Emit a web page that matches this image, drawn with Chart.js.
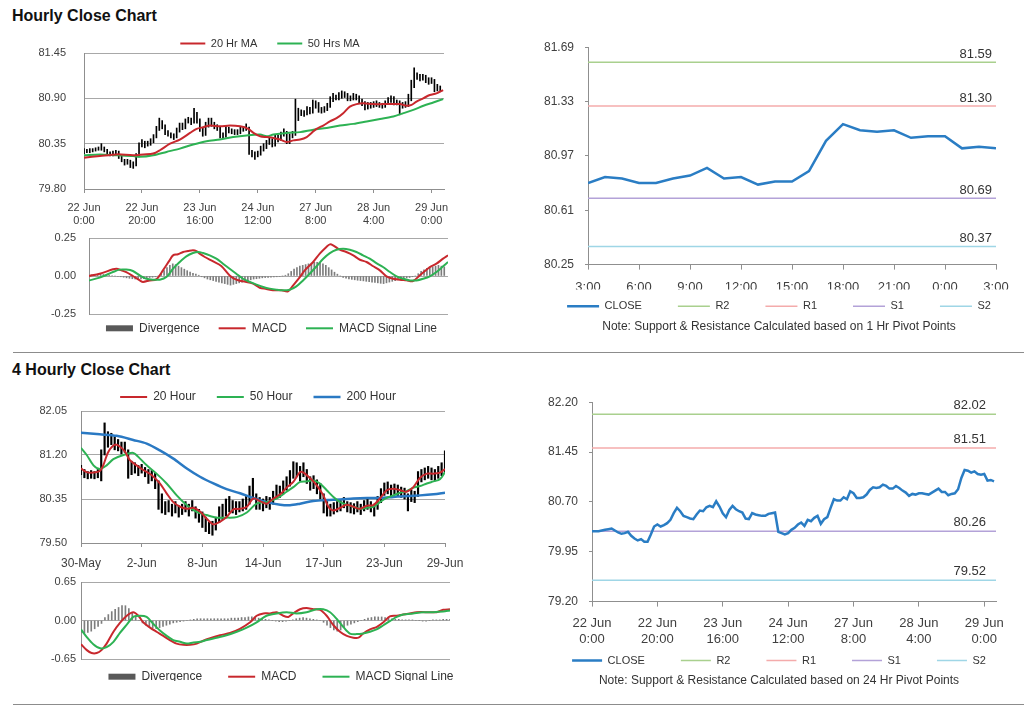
<!DOCTYPE html>
<html><head><meta charset="utf-8">
<script src="https://cdn.jsdelivr.net/npm/chart.js@4.4.0/dist/chart.umd.min.js"></script>
<style>
html,body{margin:0;padding:0;background:#fff;width:1024px;height:706px;overflow:hidden;position:relative;font-family:"Liberation Sans",Arial,sans-serif;}
canvas{position:absolute;}
.title{position:absolute;left:12px;font-weight:bold;font-size:16px;line-height:16px;color:#111;white-space:nowrap;}
.sep{position:absolute;left:13px;width:1011px;height:1px;background:#8c8c8c;}
</style></head><body>
<div class="title" style="top:8px">Hourly Close Chart</div>
<div class="title" style="top:362px">4 Hourly Close Chart</div>
<div class="sep" style="top:352px"></div>
<div class="sep" style="top:704px"></div>
<canvas id="cA" width="468" height="215" style="left:36px;top:18px"></canvas>
<canvas id="cA2" width="463" height="104" style="left:40px;top:230px"></canvas>
<canvas id="cB" width="510" height="306" style="left:524px;top:29px"></canvas>
<canvas id="cD" width="456" height="203" style="left:30px;top:370px"></canvas>
<canvas id="cD2" width="502" height="107" style="left:30px;top:574px"></canvas>
<canvas id="cC" width="510" height="305" style="left:524px;top:384px"></canvas>
<script>
// ---------- Hourly (22 Jun 0:00 .. 29 Jun 3:00), one entry per hour ----------
const hourlyTickHours = [0, 20, 40, 60, 80, 100, 120];
const hourlyTickLabels = [['22 Jun','0:00'],['22 Jun','20:00'],['23 Jun','16:00'],['24 Jun','12:00'],['27 Jun','8:00'],['28 Jun','4:00'],['29 Jun','0:00']];
const hourlyLow = [
80.23,80.24,80.24,80.25,80.26,80.27,80.27,80.25,80.22,80.20,
80.20,80.22,80.17,80.13,80.09,80.10,80.06,80.05,80.08,80.19,
80.31,80.30,80.32,80.33,80.36,80.42,80.51,80.53,80.46,80.44,
80.42,80.40,80.42,80.49,80.52,80.53,80.60,80.58,80.60,80.60,
80.50,80.44,80.45,80.55,80.56,80.53,80.51,80.42,80.41,80.43,
80.48,80.47,80.46,80.46,80.47,80.50,80.51,80.22,80.19,80.16,
80.19,80.21,80.26,80.29,80.34,80.31,80.32,80.37,80.39,80.44,
80.35,80.35,80.42,80.45,80.63,80.69,80.68,80.70,80.71,80.72,
80.78,80.73,80.72,80.73,80.75,80.79,80.86,80.88,80.88,80.90,
80.91,80.87,80.87,80.88,80.88,80.84,80.81,80.76,80.77,80.78,
80.79,80.80,80.79,80.78,80.79,80.83,80.85,80.82,80.82,80.70,
80.78,80.79,80.80,80.87,81.03,81.13,81.11,81.12,81.09,81.07,
81.08,80.98,80.99,80.98];
const hourlyHigh = [
80.29,80.28,80.29,80.29,80.30,80.31,80.35,80.31,80.28,80.25,
80.26,80.27,80.26,80.20,80.16,80.16,80.15,80.13,80.23,80.36,
80.40,80.38,80.38,80.41,80.46,80.56,80.66,80.63,80.58,80.51,
80.48,80.47,80.54,80.60,80.60,80.65,80.67,80.66,80.78,80.73,
80.65,80.55,80.61,80.66,80.66,80.61,80.58,80.56,80.48,80.56,
80.55,80.53,80.52,80.52,80.55,80.56,80.59,80.55,80.27,80.25,
80.26,80.32,80.35,80.39,80.43,80.41,80.46,80.45,80.49,80.53,
80.50,80.47,80.50,80.89,80.78,80.76,80.75,80.80,80.79,80.88,
80.87,80.85,80.79,80.80,80.84,80.92,80.96,80.94,80.97,80.99,
80.98,80.96,80.93,80.96,80.95,80.93,80.89,80.86,80.85,80.85,
80.86,80.87,80.85,80.84,80.87,80.91,80.93,80.92,80.88,80.87,
80.85,80.86,80.95,81.12,81.27,81.21,81.19,81.19,81.18,81.15,
81.15,81.13,81.07,81.05];
const hourlyClose = [
80.26,80.26,80.26,80.27,80.28,80.29,80.30,80.27,80.24,80.22,
80.23,80.25,80.19,80.15,80.12,80.14,80.10,80.10,80.21,80.33,
80.36,80.33,80.35,80.38,80.43,80.53,80.61,80.56,80.49,80.47,
80.45,80.44,80.51,80.57,80.56,80.62,80.64,80.62,80.71,80.63,
80.53,80.47,80.58,80.64,80.59,80.56,80.54,80.45,80.44,80.53,
80.51,80.50,80.49,80.49,80.52,80.53,80.54,80.25,80.23,80.21,
80.23,80.28,80.31,80.36,80.39,80.34,80.43,80.41,80.46,80.49,
80.37,80.44,80.47,80.61,80.74,80.72,80.72,80.77,80.74,80.86,
80.83,80.76,80.76,80.77,80.81,80.88,80.92,80.91,80.92,80.96,
80.94,80.90,80.90,80.94,80.91,80.87,80.84,80.79,80.82,80.81,
80.83,80.83,80.82,80.81,80.84,80.87,80.90,80.85,80.85,80.80,
80.82,80.83,80.89,81.06,81.18,81.17,81.14,81.16,81.12,81.11,
81.12,81.02,81.03,81.01];
const ma20Hours = [0,5.5,11.3,17,20.5,23.9,26.2,29.7,33.1,36.6,38.9,41.2,43.5,47,50.4,53.9,56.7,58.5,60.8,63.1,65.4,67.7,70,72.3,74.6,76.9,78.6,80.3,82.6,84.9,87.2,89.5,91.8,94.1,96.4,99.9,103.3,106.8,109.1,111.4,113.1,114.8,117.1,119.4,121.7,124];
const ma20Values = [80.18,80.20,80.22,80.21,80.22,80.23,80.27,80.35,80.40,80.48,80.53,80.55,80.57,80.56,80.57,80.56,80.53,80.48,80.44,80.43,80.42,80.40,80.37,80.39,80.40,80.43,80.48,80.53,80.57,80.62,80.66,80.72,80.80,80.83,80.84,80.83,80.83,80.83,80.83,80.81,80.82,80.86,80.90,80.94,80.96,81.00];
const ma50Hours = [0,5.5,11.3,17,19.3,23.9,28.5,33.1,37.7,42.3,46.9,51.5,56.1,60.8,63.1,65.4,70,74.6,79.2,83.8,88.4,93,97.6,102.2,106.8,110.3,113.7,117.2,120.6,124];
const ma50Values = [80.21,80.22,80.21,80.20,80.19,80.21,80.25,80.29,80.34,80.38,80.40,80.43,80.45,80.46,80.44,80.46,80.48,80.49,80.52,80.54,80.57,80.59,80.62,80.65,80.68,80.72,80.76,80.81,80.85,80.89];
const hourlyDivergence = [
0.005,0.008,0.01,0.012,0.012,0.01,
0.008,0.005,0.003,0.0,-0.003,
-0.005,-0.008,-0.012,
-0.015,-0.018,-0.02,-0.022,-0.02,-0.018,-0.015,-0.01,-0.008,
-0.005,0.0,0.015,0.035,
0.055,0.07,0.08,0.075,0.065,0.055,0.045,0.035,0.025,
0.018,0.012,0.005,-0.005,-0.012,
-0.02,-0.025,-0.03,-0.035,-0.04,-0.045,-0.05,-0.055,-0.06,-0.055,-0.05,-0.045,
-0.04,-0.035,-0.03,-0.025,-0.02,-0.018,-0.015,-0.012,-0.01,-0.01,-0.008,-0.006,-0.005,
-0.003,0.0,0.005,0.015,
0.03,0.045,0.055,0.065,0.07,0.075,0.08,0.085,0.09,0.09,0.085,0.08,0.07,0.055,0.04,
0.025,0.012,0.0,-0.01,
-0.015,-0.02,-0.022,-0.025,-0.028,-0.03,-0.032,-0.035,-0.038,-0.04,-0.042,-0.045,-0.048,-0.05,-0.045,-0.04,-0.035,-0.03,-0.025,-0.02,
-0.015,-0.012,-0.01,-0.005,0.0,
0.015,0.03,0.04,0.05,0.055,0.06,0.065,0.07,0.065,0.06];
const macdHours = [0,3.7,8.3,9.5,11.2,12.9,15.2,17.6,18.7,21.0,23.3,25.6,27.9,29.1,30.8,32.6,34.3,36.0,37.2,38.3,40.1,43.0,45.8,48.7,51.0,53.3,56.8,59.1,61.4,63.7,66.6,68.9,70.7,73.0,74.7,77.6,79.9,82.2,83.4,84.5,86.8,89.1,91.5,93.8,96.1,98.4,100.7,103.0,105.3,107.6,109.9,112.2,114.5,116.3,118.0,120.3,122.6,124.3];
const macdValues = [0,0.015,0.044,0.048,0.037,0.026,0,-0.029,-0.039,-0.029,-0.022,0.037,0.103,0.136,0.143,0.158,0.164,0.169,0.164,0.147,0.125,0.096,0.066,0.004,-0.024,-0.035,-0.050,-0.077,-0.085,-0.094,-0.094,-0.101,-0.061,-0.007,0.037,0.092,0.147,0.191,0.208,0.202,0.173,0.158,0.136,0.107,0.092,0.064,0.037,-0.002,-0.018,-0.024,-0.028,-0.033,0.004,0.033,0.059,0.081,0.114,0.136];
const signalHours = [0,3.7,8.3,10.6,12.9,15.2,17.6,19.9,22.2,24.5,26.8,29.1,31.4,33.7,36.0,37.8,39.5,41.8,44.1,46.4,48.7,51.0,53.3,55.7,58.0,60.3,62.6,64.9,67.2,69.5,71.8,74.1,76.4,78.8,81.1,83.4,85.7,88.0,90.3,92.6,94.9,97.2,99.5,101.8,104.2,106.5,108.8,111.1,113.4,115.7,118.0,120.3,122.6,124.3];
const signalValues = [-0.029,-0.011,0.026,0.042,0.042,0.033,0.004,-0.018,-0.024,-0.024,-0.007,0.048,0.092,0.129,0.151,0.158,0.151,0.136,0.114,0.081,0.048,0.015,-0.018,-0.039,-0.057,-0.072,-0.083,-0.090,-0.094,-0.090,-0.068,-0.029,0.015,0.064,0.114,0.151,0.173,0.180,0.173,0.158,0.136,0.114,0.085,0.059,0.026,-0.002,-0.018,-0.029,-0.029,-0.018,-0.002,0.026,0.064,0.092];

// ---------- Last 24 hours (3:00 .. 3:00) ----------
const dayHourTicks = [0,3,6,9,12,15,18,21,24];
const dayHourLabels = ['3:00','6:00','9:00','12:00','15:00','18:00','21:00','0:00','3:00'];
const dayClose = [80.79,80.83,80.82,80.79,80.79,80.82,80.84,80.89,80.82,80.83,80.78,80.80,80.80,80.87,81.07,81.18,81.14,81.13,81.14,81.09,81.10,81.10,81.02,81.03,81.02];
const levelNames = ['R2','R1','S1','S2'];
const levels1Hr = [81.59, 81.30, 80.69, 80.37];
const levels24Hr = [82.02, 81.51, 80.26, 79.52];

// ---------- 4-hourly (30 May .. 29 Jun) ----------
const fourHourTicks = [0, 18, 36, 54, 72, 90, 108];
const fourHourLabels = ['30-May','2-Jun','8-Jun','14-Jun','17-Jun','23-Jun','29-Jun'];
const fourHourLow = [
80.82,80.76,80.74,80.75,80.74,80.76,80.70,81.20,81.35,81.40,
81.30,81.28,81.22,81.25,80.75,80.82,80.85,80.80,80.85,80.78,
80.65,80.70,80.55,80.15,80.08,80.05,80.10,80.02,80.08,80.00,
80.05,80.10,80.02,80.12,79.98,79.90,79.80,79.72,79.68,79.65,
79.75,79.90,79.95,80.02,80.10,80.08,80.05,80.10,80.12,80.15,
80.25,80.35,80.15,80.15,80.12,80.18,80.15,80.25,80.38,80.38,
80.45,80.52,80.60,80.75,80.78,80.70,80.78,80.65,80.52,80.55,
80.45,80.35,80.08,80.02,80.02,80.06,80.10,80.12,80.18,80.10,
80.08,80.06,80.10,80.05,80.12,80.15,80.10,80.02,80.15,80.28,
80.42,80.45,80.40,80.44,80.40,80.38,80.35,80.12,80.30,80.28,
80.40,80.68,80.72,80.75,80.72,80.70,80.75,80.80,80.85];
const fourHourHigh = [
81.00,80.92,80.88,80.90,80.88,80.92,81.30,81.82,81.65,81.62,
81.55,81.50,81.45,81.45,81.30,81.08,81.05,81.00,81.02,80.96,
80.92,80.90,80.85,80.70,80.45,80.30,80.32,80.25,80.30,80.22,
80.25,80.30,80.25,80.32,80.20,80.15,80.10,80.00,79.90,79.92,
80.00,80.20,80.25,80.35,80.40,80.32,80.30,80.30,80.35,80.40,
80.60,80.75,80.45,80.38,80.35,80.40,80.38,80.50,80.62,80.60,
80.70,80.78,80.90,81.07,81.05,80.98,81.05,80.92,80.78,80.80,
80.72,80.65,80.45,80.30,80.25,80.28,80.30,80.32,80.38,80.30,
80.28,80.26,80.30,80.25,80.32,80.35,80.30,80.25,80.40,80.55,
80.66,80.68,80.62,80.64,80.62,80.58,80.56,80.45,80.52,80.50,
80.88,80.92,80.95,80.98,80.95,80.92,80.98,81.05,81.28];
const ma20x4Bars = [0,1.7,3.7,5.6,6.6,8.1,10.1,11.6,13.1,14.5,16.5,18.5,21.0,23.4,25.4,27.4,29.4,31.4,33.3,35.3,37.3,39.3,41.2,43.2,45.2,47.2,49.2,51.1,53.1,55.1,57.1,59.1,61.0,63.0,65.0,66.0,68.0,69.9,71.9,73.4,74.9,76.9,78.8,80.8,82.8,84.8,86.7,88.7,90.7,92.7,94.7,96.6,98.6,100.6,102.6,104.6,106.5,108];
const ma20x4Values = [80.94,80.87,80.86,80.89,81.00,81.26,81.40,81.36,81.26,81.10,81.00,80.91,80.81,80.65,80.46,80.29,80.20,80.16,80.18,80.11,79.97,79.86,79.91,80.00,80.15,80.16,80.20,80.36,80.31,80.26,80.36,80.44,80.57,80.68,80.87,80.86,80.75,80.62,80.42,80.20,80.13,80.18,80.24,80.20,80.16,80.22,80.23,80.36,80.52,80.55,80.52,80.49,80.58,80.76,80.84,80.84,80.86,80.93];
const ma50x4Bars = [0,1.7,3.7,5.6,7.6,9.6,12.6,15.5,17.5,19.5,22.4,25.4,28.4,31.4,34.3,37.3,40.3,43.2,46.2,49.2,52.1,55.1,58.1,61.0,63.0,65.0,66.9,68.9,70.9,72.9,74.9,76.9,78.8,80.8,82.8,84.8,86.7,88.7,90.7,92.7,94.7,96.6,98.6,100.6,102.6,104.6,106.5,108];
const ma50x4Values = [81.34,81.20,81.00,80.93,81.00,81.12,81.20,81.24,81.13,81.00,80.84,80.65,80.42,80.23,80.10,80.04,79.99,79.99,80.00,80.09,80.26,80.29,80.36,80.49,80.58,80.68,80.69,80.71,80.65,80.52,80.39,80.29,80.24,80.20,80.16,80.18,80.20,80.29,80.37,80.42,80.47,80.50,80.57,80.60,80.65,80.69,80.73,80.87];
const ma200x4Bars = [0,5.6,10.6,15.5,19.5,23.4,27.4,31.4,35.3,39.3,43.2,47.2,51.1,55.1,59.1,62.0,65.0,68.9,72.9,76.9,80.8,84.8,88.7,92.7,96.6,100.6,104.6,108];
const ma200x4Values = [81.63,81.60,81.57,81.49,81.42,81.29,81.13,80.94,80.78,80.65,80.54,80.46,80.37,80.29,80.24,80.23,80.26,80.31,80.33,80.34,80.36,80.37,80.37,80.39,80.41,80.42,80.44,80.47];
const fourHourDivergence = [
-0.20,-0.21,-0.20,-0.18,-0.14,
-0.10,-0.05,
0.05,0.10,0.15,0.19,0.22,0.25,0.25,0.20,0.12,0.06,
0.0,-0.04,-0.08,-0.10,-0.12,-0.14,-0.12,-0.10,-0.08,-0.06,-0.04,-0.03,-0.02,-0.01,
0.0,0.01,0.02,0.03,0.03,0.03,0.03,0.03,0.03,0.03,0.03,0.03,0.03,0.04,0.04,0.04,
0.05,0.05,0.06,0.06,0.05,0.04,0.03,0.02,0.01,
0.0,-0.01,-0.02,-0.02,-0.01,0.0,0.01,
0.03,0.04,0.05,0.04,0.03,0.02,0.01,0.0,
-0.03,-0.08,-0.12,-0.16,-0.18,-0.16,-0.12,-0.08,-0.06,-0.04,-0.02,0.0,
0.02,0.04,0.05,0.06,0.06,0.06,0.05,0.04,0.03,0.02,
0.02,0.01,0.01,0.01,0.01,0.0,0.0,-0.01,-0.01,0.0,0.01,0.01,0.01,0.02,0.02,0.02];
const macd4Bars = [0,1.7,3.1,4.6,6.0,7.5,9.5,11.4,13.4,15.3,16.8,18.2,20.2,22.1,24.1,26.0,28.0,30.0,31.9,33.9,35.8,37.8,40.7,43.6,46.5,49.5,51.4,53.4,55.3,57.3,59.2,60.7,62.1,64.1,66.0,68.0,70.0,71.9,73.9,75.8,77.8,79.7,81.2,82.6,84.6,86.5,88.5,90.4,92.4,94.3,96.3,98.2,102.1,104.1,106.0,108];
const macd4Values = [-0.40,-0.50,-0.55,-0.55,-0.50,-0.39,-0.19,-0.04,0.08,0.14,0.08,-0.03,-0.12,-0.19,-0.26,-0.33,-0.39,-0.41,-0.41,-0.39,-0.34,-0.30,-0.25,-0.21,-0.14,-0.03,0.08,0.12,0.12,0.14,0.08,0.06,0.12,0.19,0.21,0.19,0.18,0.08,-0.08,-0.19,-0.26,-0.29,-0.29,-0.22,-0.15,-0.11,-0.03,0.07,0.08,0.10,0.12,0.14,0.14,0.14,0.18,0.19];
const signal4Bars = [0,1.7,3.6,5.6,7.5,9.5,11.4,13.4,15.3,17.3,19.2,21.2,23.1,25.1,27.0,29.0,31.0,32.9,34.9,36.8,39.7,42.6,45.6,48.5,51.4,54.3,57.3,60.2,63.1,66.0,69.0,70.9,72.9,74.8,76.8,78.7,80.7,82.6,84.6,86.5,88.5,90.4,92.4,94.3,97.2,100.1,103.1,106.0,108];
const signal4Values = [-0.15,-0.28,-0.40,-0.47,-0.45,-0.36,-0.21,-0.07,0.06,0.08,0.06,-0.06,-0.17,-0.26,-0.33,-0.36,-0.39,-0.37,-0.36,-0.33,-0.29,-0.25,-0.19,-0.12,-0.03,0.08,0.12,0.14,0.12,0.14,0.19,0.19,0.14,0.03,-0.11,-0.22,-0.23,-0.22,-0.19,-0.15,-0.08,-0.01,0.06,0.10,0.12,0.14,0.14,0.15,0.17];

const note1 = 'Note: Support & Resistance Calculated based on 1 Hr Pivot Points';
const note2 = 'Note: Support & Resistance Calculated based on 24 Hr Pivot Points';

// ---------- styling ----------
const FONT = '"Liberation Sans", Arial, sans-serif';
Chart.defaults.font.family = FONT;
Chart.defaults.color = '#404040';
Chart.defaults.animation = false;
Chart.defaults.responsive = false;
Chart.defaults.events = [];
Chart.defaults.plugins.tooltip.enabled = false;

const AXIS = '#8f8f8f', GRID = '#a8a8a8', TICK = '#404040', NONE = 'rgba(0,0,0,0)';
const RED = '#c8282d', GREEN = '#2db253', BLUE = '#2a79c3', DIV = '#7d7d7d', CLOSEBLUE = '#2a7dc4';
const LEVEL_COLORS = ['#a9d08e', '#f4abab', '#b3a2d8', '#9fd6e6'];

function pts(xs, ys) { return ys.map((y, i) => ({x: xs[i], y})); }
function seq(ys) { return ys.map((y, i) => ({x: i, y})); }
function bars(lo, hi) { return lo.map((l, i) => ({x: i, y: [l, hi[i]]})); }
function line(label, data, color, width, extra) {
  return Object.assign({type: 'line', label, data, borderColor: color, backgroundColor: color,
    borderWidth: width, pointRadius: 0, pointHoverRadius: 0, tension: 0.3}, extra || {});
}

function legend(o) {
  return {
    position: o.pos, maxHeight: o.maxH,
    title: o.shift === undefined ? {display: false} : {display: true, text: '', font: {size: 1}, padding: {top: o.shift, bottom: 0}},
    labels: {
      usePointStyle: true, pointStyleWidth: o.sample, boxHeight: 6, padding: o.pad,
      color: '#333', font: {size: o.size},
      sort: (a, b) => a.datasetIndex - b.datasetIndex,
      filter: (it, data) => !data.datasets[it.datasetIndex].noLegend,
      generateLabels(chart) {
        const items = Chart.defaults.plugins.legend.labels.generateLabels(chart);
        items.forEach(it => {
          const ds = chart.data.datasets[it.datasetIndex];
          if (ds.legendShape === 'rect') {
            it.pointStyle = 'rect'; it.fillStyle = ds.legendFill; it.lineWidth = 0;
          } else {
            it.pointStyle = 'line'; it.strokeStyle = ds.borderColor; it.lineWidth = ds.borderWidth;
          }
        });
        return items;
      }
    }
  };
}
function xLinear(o) {
  return {
    type: 'linear', min: o.min, max: o.max, offset: false, display: o.display !== false,
    afterBuildTicks: s => { s.ticks = o.ticks.map(v => ({value: v})); },
    afterFit: s => { if (o.h !== undefined) s.height = o.h; },
    ticks: {autoSkip: false, maxRotation: 0, minRotation: 0, padding: o.pad, font: {size: o.size}, color: TICK,
      callback: (v, i) => o.labels[i]},
    grid: {drawOnChartArea: false, drawTicks: true, tickLength: o.tl, color: AXIS, offset: false},
    border: {color: AXIS}
  };
}
function yLinear(o) {
  const gridded = !!o.gridOn;
  return {
    type: 'linear', position: 'left', min: o.min, max: o.max,
    afterBuildTicks: s => { s.ticks = o.ticks.map(v => ({value: v})); },
    afterFit: s => { s.width = o.w; },
    ticks: {padding: gridded ? 0 : o.pad, font: {size: o.size}, color: TICK, callback: v => v.toFixed(2)},
    grid: gridded
      ? {drawOnChartArea: true, drawTicks: true, tickLength: o.pad, color: GRID, tickColor: NONE}
      : {drawOnChartArea: false, drawTicks: true, tickLength: o.tl, color: AXIS},
    border: {color: AXIS}
  };
}
// empty right-hand gutter so that legends/notes centre on the whole panel
function gutter(w) {
  return {type: 'linear', position: 'right', display: true, grid: {display: false, drawTicks: false},
    border: {display: false}, ticks: {display: false}, afterFit: s => { s.width = w; }};
}
const levelLabelPlugin = {
  id: 'levelLabels',
  afterDatasetsDraw(chart, args, opts) {
    const {ctx, chartArea, scales} = chart;
    ctx.save();
    ctx.font = '13px ' + FONT;
    ctx.fillStyle = '#333';
    ctx.textAlign = 'right';
    ctx.textBaseline = 'alphabetic';
    chart.data.datasets.forEach(ds => {
      if (ds.levelValue === undefined) return;
      const y = scales.y.getPixelForValue(ds.levelValue);
      ctx.fillText(ds.levelValue.toFixed(2), chartArea.right - opts.offset, y - opts.rise);
    });
    ctx.restore();
  }
};
function levelSets(values, x0, x1) {
  return values.map((v, i) => ({type: 'line', label: levelNames[i], data: [{x: x0, y: v}, {x: x1, y: v}],
    borderColor: LEVEL_COLORS[i], backgroundColor: LEVEL_COLORS[i], borderWidth: 1.5, pointRadius: 0, levelValue: v}));
}

// ---------- A: hourly price ----------
new Chart(document.getElementById('cA'), {
  type: 'bar',
  data: {datasets: [
    line('20 Hr MA', pts(ma20Hours, ma20Values), RED, 2),
    line('50 Hrs MA', pts(ma50Hours, ma50Values), GREEN, 2),
    {type: 'bar', label: 'Hourly range', noLegend: true, data: bars(hourlyLow, hourlyHigh), backgroundColor: '#000', barThickness: 1, borderWidth: 0}
  ]},
  options: {
    layout: {padding: 0},
    plugins: {legend: legend({pos: 'top', maxH: 35, pad: 20, sample: 25, size: 11})},
    scales: {
      x: xLinear({min: 0, max: 124.3, ticks: hourlyTickHours, labels: hourlyTickLabels, h: 44, tl: 4, pad: 8, size: 11}),
      y: yLinear({min: 79.80, max: 81.45, ticks: [79.80, 80.35, 80.90, 81.45], w: 48, pad: 18, size: 11, gridOn: true}),
      yR: gutter(60)
    }
  }
});

// ---------- A2: hourly MACD ----------
new Chart(document.getElementById('cA2'), {
  type: 'bar',
  data: {datasets: [
    {type: 'bar', label: 'Divergence', legendShape: 'rect', legendFill: '#595959', order: 2, data: seq(hourlyDivergence), backgroundColor: DIV, barThickness: 1, borderWidth: 0},
    line('MACD', pts(macdHours, macdValues), RED, 2, {order: 1}),
    line('MACD Signal Line', pts(signalHours, signalValues), GREEN, 2, {order: 0})
  ]},
  options: {
    layout: {padding: {left: 0, right: 0, top: 8, bottom: 0}},
    plugins: {legend: legend({pos: 'bottom', maxH: 20, pad: 19, sample: 27, size: 12, shift: -11.9})},
    scales: {
      x: xLinear({min: 0, max: 124.3, display: false, ticks: [], labels: []}),
      y: yLinear({min: -0.25, max: 0.25, ticks: [-0.25, 0, 0.25], w: 49, pad: 13, size: 11, gridOn: true}),
      yR: gutter(55)
    }
  }
});

// ---------- B: last 24h close with 1 Hr pivots ----------
new Chart(document.getElementById('cB'), {
  type: 'line',
  data: {datasets: [
    {type: 'line', label: 'CLOSE', data: seq(dayClose), borderColor: CLOSEBLUE, backgroundColor: CLOSEBLUE, borderWidth: 2.5, pointRadius: 0, tension: 0},
    ...levelSets(levels1Hr, 0, 24)
  ]},
  plugins: [levelLabelPlugin],
  options: {
    layout: {padding: 0},
    plugins: {
      legend: legend({pos: 'bottom', maxH: 20, pad: 36, sample: 32, size: 11, shift: -26}),
      title: {display: true, position: 'bottom', text: note1, color: '#333', font: {size: 12, weight: 'normal'}, padding: {top: 10, bottom: 1}},
      levelLabels: {offset: 4, rise: 4}
    },
    scales: {
      x: xLinear({min: 0, max: 24, ticks: dayHourTicks, labels: dayHourLabels, h: 25, tl: 5, pad: 10, size: 13}),
      y: yLinear({min: 80.25, max: 81.69, ticks: [80.25, 80.61, 80.97, 81.33, 81.69], w: 64, pad: 11, size: 12, gridOn: false, tl: 3}),
      yR: gutter(38)
    }
  }
});

// ---------- D: 4-hourly price ----------
new Chart(document.getElementById('cD'), {
  type: 'bar',
  data: {datasets: [
    line('20 Hour', pts(ma20x4Bars, ma20x4Values), RED, 2),
    line('50 Hour', pts(ma50x4Bars, ma50x4Values), GREEN, 2),
    line('200 Hour', pts(ma200x4Bars, ma200x4Values), BLUE, 2.5),
    {type: 'bar', label: '4 hour range', noLegend: true, data: bars(fourHourLow, fourHourHigh), backgroundColor: '#000', barThickness: 1.5, borderWidth: 0}
  ]},
  options: {
    layout: {padding: 0},
    plugins: {legend: legend({pos: 'top', maxH: 41, pad: 21, sample: 27, size: 12})},
    scales: {
      x: xLinear({min: 0, max: 108, ticks: fourHourTicks, labels: fourHourLabels, h: 30, tl: 4, pad: 9, size: 12}),
      y: yLinear({min: 79.50, max: 82.05, ticks: [79.50, 80.35, 81.20, 82.05], w: 51, pad: 14, size: 11, gridOn: true}),
      yR: gutter(41)
    }
  }
});

// ---------- D2: 4-hourly MACD ----------
new Chart(document.getElementById('cD2'), {
  type: 'bar',
  data: {datasets: [
    {type: 'bar', label: 'Divergence', legendShape: 'rect', legendFill: '#595959', order: 2, data: seq(fourHourDivergence), backgroundColor: DIV, barThickness: 1, borderWidth: 0},
    line('MACD', pts(macd4Bars, macd4Values), RED, 2, {order: 1}),
    line('MACD Signal Line', pts(signal4Bars, signal4Values), GREEN, 2, {order: 0})
  ]},
  options: {
    layout: {padding: {left: 0, right: 0, top: 8, bottom: 0}},
    plugins: {legend: legend({pos: 'bottom', maxH: 22, pad: 26, sample: 27, size: 12, shift: -15.5})},
    scales: {
      x: xLinear({min: 0, max: 108, display: false, ticks: [], labels: []}),
      y: yLinear({min: -0.65, max: 0.65, ticks: [-0.65, 0, 0.65], w: 51, pad: 5, size: 11, gridOn: true}),
      yR: gutter(82)
    }
  }
});

// ---------- C: hourly close with 24 Hr pivots ----------
new Chart(document.getElementById('cC'), {
  type: 'line',
  data: {datasets: [
    {type: 'line', label: 'CLOSE', data: seq(hourlyClose), borderColor: CLOSEBLUE, backgroundColor: CLOSEBLUE, borderWidth: 2.5, pointRadius: 0, tension: 0},
    ...levelSets(levels24Hr, 0, 123.6)
  ]},
  plugins: [levelLabelPlugin],
  options: {
    layout: {padding: 0},
    plugins: {
      legend: legend({pos: 'bottom', maxH: 18, pad: 36, sample: 30, size: 11, shift: -28.7}),
      title: {display: true, position: 'bottom', text: note2, color: '#333', font: {size: 12, weight: 'normal'}, padding: {top: 9, bottom: 1}},
      levelLabels: {offset: 10, rise: 5}
    },
    scales: {
      x: xLinear({min: 0, max: 123.6, ticks: hourlyTickHours, labels: hourlyTickLabels, h: 45, tl: 5, pad: 9.5, size: 13}),
      y: yLinear({min: 79.20, max: 82.20, ticks: [79.20, 79.95, 80.70, 81.45, 82.20], w: 68, pad: 11, size: 12, gridOn: false, tl: 3}),
      yR: gutter(38)
    }
  }
});
</script>
</body></html>
